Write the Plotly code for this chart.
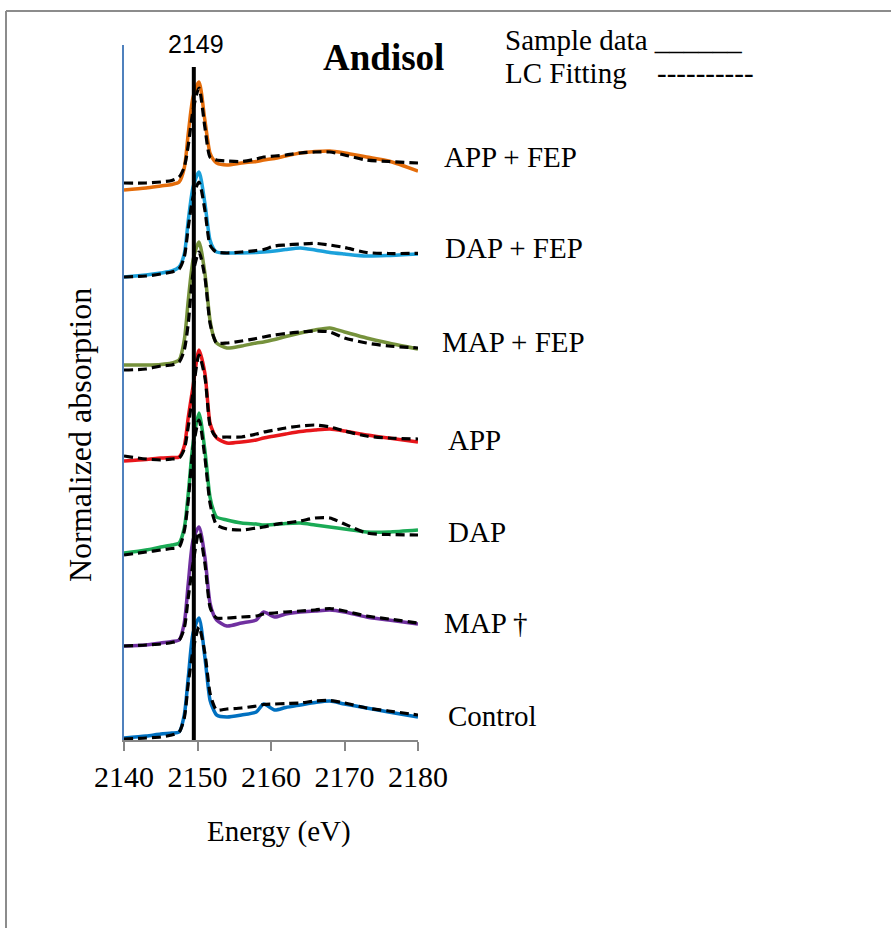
import plotly.graph_objects as go

# ---------------- data ----------------
energy = [2140, 2143, 2145, 2146.5, 2147.5, 2148.2, 2148.75, 2149.4, 2150.2, 2151, 2151.7, 2152.2, 2152.6, 2154,
          2156, 2158, 2159, 2160.5, 2162, 2164, 2166, 2168, 2170, 2173, 2176, 2180]

series_names = ["APP + FEP", "DAP + FEP", "MAP + FEP", "APP", "DAP", "MAP \u2020", "Control"]
series_offsets = [55.0, 46.3, 37.5, 27.9, 18.7, 9.4, 0.2]

sample_app_fep = [0, 0.2, 0.4, 0.55, 0.8, 2.2, 5.7, 9.3, 10.8, 7.0, 3.7, 3.0, 2.7, 2.5, 2.7, 2.85, 3.0, 3.15, 3.4, 3.7, 3.85, 3.9, 3.7, 3.3, 2.9, 1.9]
fit_app_fep = [0.7, 0.7, 0.8, 0.95, 1.3, 2.3, 4.5, 8.0, 10.2, 6.3, 3.3, 3.1, 3.0, 2.9, 2.85, 3.1, 3.3, 3.4, 3.5, 3.7, 3.8, 3.8, 3.5, 3.0, 2.85, 2.7]

sample_dap_fep = [0, 0.2, 0.4, 0.6, 1.0, 2.3, 5.7, 9.0, 10.5, 7.4, 3.7, 2.8, 2.5, 2.4, 2.4, 2.45, 2.5, 2.6, 2.75, 2.9, 2.7, 2.45, 2.3, 2.1, 2.15, 2.3]
fit_dap_fep = [0.0, 0.1, 0.3, 0.5, 0.8, 2.0, 5.0, 8.0, 9.5, 6.7, 3.2, 2.7, 2.5, 2.4, 2.5, 2.65, 2.75, 3.1, 3.2, 3.3, 3.37, 3.2, 2.95, 2.45, 2.35, 2.37]

sample_map_fep = [0, 0, 0.05, 0.2, 0.5, 2.5, 6.5, 10.5, 12.3, 9.2, 4.5, 2.8, 2.2, 1.7, 1.9, 2.2, 2.3, 2.55, 2.85, 3.2, 3.5, 3.7, 3.3, 2.7, 2.2, 1.6]
fit_map_fep = [-0.5, -0.4, -0.1, 0.0, 0.3, 1.5, 4.2, 9.2, 11.3, 8.8, 4.2, 2.8, 2.2, 2.2, 2.4, 2.65, 2.8, 3.0, 3.15, 3.3, 3.4, 3.3, 2.7, 2.2, 1.9, 1.7]

sample_app = [0, 0.15, 0.3, 0.35, 0.4, 1.5, 4.4, 7.5, 11.1, 8.8, 3.8, 2.8, 2.3, 1.8, 1.9, 2.1, 2.3, 2.5, 2.7, 2.95, 3.1, 3.2, 3.0, 2.6, 2.3, 1.9]
fit_app = [0.5, 0.2, 0.1, 0.2, 0.3, 1.2, 3.5, 7.0, 10.6, 8.4, 3.6, 2.7, 2.4, 2.4, 2.4, 2.7, 2.9, 3.1, 3.3, 3.5, 3.6, 3.4, 3.0, 2.5, 2.3, 2.2]

sample_dap = [0, 0.3, 0.6, 0.8, 1.0, 2.5, 6.0, 11.0, 14.0, 10.3, 5.6, 4.2, 3.6, 3.3, 3.0, 2.9, 2.8, 2.85, 2.95, 3.0, 2.8, 2.6, 2.4, 2.1, 2.1, 2.3]
fit_dap = [-0.2, 0.1, 0.3, 0.45, 0.6, 2.2, 5.3, 10.5, 13.3, 9.6, 5.0, 3.5, 2.8, 2.4, 2.3, 2.5, 2.6, 2.85, 3.0, 3.2, 3.5, 3.5, 2.9, 2.0, 1.85, 1.8]

sample_map = [0, 0.1, 0.3, 0.45, 0.6, 2.3, 6.3, 10.6, 11.9, 8.9, 4.3, 3.1, 2.6, 2.0, 2.3, 2.6, 3.4, 2.9, 3.2, 3.4, 3.5, 3.6, 3.4, 2.9, 2.6, 2.2]
fit_map = [0, 0.1, 0.2, 0.35, 0.6, 1.8, 4.9, 8.3, 11.4, 8.3, 3.9, 3.1, 2.8, 2.8, 2.9, 3.0, 3.2, 3.3, 3.4, 3.5, 3.6, 3.75, 3.5, 3.0, 2.7, 2.3]

sample_control = [0, 0.2, 0.4, 0.5, 0.6, 2.3, 6.1, 10.5, 12.0, 8.1, 3.8, 2.8, 2.3, 2.1, 2.3, 2.6, 3.4, 2.8, 3.05, 3.3, 3.55, 3.7, 3.4, 3.0, 2.6, 2.1]
fit_control = [-0.1, 0.0, 0.1, 0.3, 0.6, 2.0, 5.5, 8.8, 11.1, 8.5, 4.5, 3.3, 2.8, 2.9, 3.0, 3.2, 3.35, 3.4, 3.45, 3.5, 3.7, 3.75, 3.5, 3.0, 2.7, 2.3]

samples = [sample_app_fep, sample_dap_fep, sample_map_fep, sample_app, sample_dap, sample_map, sample_control]
fits = [fit_app_fep, fit_dap_fep, fit_map_fep, fit_app, fit_dap, fit_map, fit_control]

x_ticks = [2140, 2150, 2160, 2170, 2180]
marker_energy = 2149.5
marker_label = "2149"
marker_top = 67.3

# ---------------- styles ----------------
colors = ["#E46C0A", "#1BA1DB", "#76923C", "#E8161B", "#1AAA55", "#7030A0", "#0070C0"]
SERIF = "Liberation Serif, Times New Roman, serif"

W, H = 891, 928
L, R, T, B = 124, 418, 45, 740


def px(x):
    return (x - L) / (R - L)


def py(y):
    return (B - y) / (B - T)


fig = go.Figure()
for name, off, s, f, c in zip(series_names, series_offsets, samples, fits, colors):
    fig.add_trace(go.Scatter(x=energy, y=[off + v for v in s], mode="lines",
                             line=dict(color=c, width=3.5, shape="spline", smoothing=0.7),
                             name=name, showlegend=False, hoverinfo="skip"))
    fig.add_trace(go.Scatter(x=energy, y=[off + v for v in f], mode="lines",
                             line=dict(color="black", width=3.2, dash="9px,5px", shape="spline", smoothing=0.7),
                             name=name + " fit", showlegend=False, hoverinfo="skip"))

# marker line at 2149
fig.add_shape(type="line", xref="x", yref="y", x0=marker_energy, x1=marker_energy, y0=0, y1=marker_top,
              line=dict(color="black", width=4))

# outer border
fig.add_shape(type="line", xref="paper", yref="paper", x0=px(6), x1=px(W), y0=py(11), y1=py(11),
              line=dict(color="#8C8C8C", width=2))
fig.add_shape(type="line", xref="paper", yref="paper", x0=px(6), x1=px(6), y0=py(11), y1=py(H),
              line=dict(color="#8C8C8C", width=2))

ann = []
label_pos = [(442, 157), (443, 248), (440, 342), (446, 440), (446, 532), (442, 623), (446, 716)]
for name, (lx, ly) in zip(series_names, label_pos):
    ann.append(dict(x=px(lx), y=py(ly), xref="paper", yref="paper", text=name, showarrow=False,
                    xanchor="left", yanchor="middle", font=dict(family=SERIF, size=29, color="black")))

ann.append(dict(x=px(383), y=py(58), xref="paper", yref="paper", text="<b>Andisol</b>", showarrow=False,
                xanchor="center", yanchor="middle", font=dict(family=SERIF, size=37, color="black")))
ann.append(dict(x=px(503), y=py(40), xref="paper", yref="paper", text="Sample data ______", showarrow=False,
                xanchor="left", yanchor="middle", font=dict(family=SERIF, size=29, color="black")))
ann.append(dict(x=px(503), y=py(73), xref="paper", yref="paper", text="LC Fitting", showarrow=False,
                xanchor="left", yanchor="middle", font=dict(family=SERIF, size=29, color="black")))
ann.append(dict(x=px(655), y=py(73), xref="paper", yref="paper", text="----------", showarrow=False,
                xanchor="left", yanchor="middle", font=dict(family=SERIF, size=29, color="black")))
ann.append(dict(x=px(196), y=py(44), xref="paper", yref="paper", text=marker_label, showarrow=False,
                xanchor="center", yanchor="middle", font=dict(family="Liberation Sans, Arial, sans-serif", size=25, color="black")))
ann.append(dict(x=px(279), y=py(832), xref="paper", yref="paper", text="Energy (eV)", showarrow=False,
                xanchor="center", yanchor="middle", font=dict(family=SERIF, size=29, color="black")))
ann.append(dict(x=px(80), y=py(435), xref="paper", yref="paper", text="Normalized absorption", showarrow=False,
                textangle=-90, xanchor="center", yanchor="middle", font=dict(family=SERIF, size=32, color="black")))

fig.update_layout(
    width=W, height=H,
    margin=dict(l=L, r=W - R, t=T, b=H - B),
    paper_bgcolor="white", plot_bgcolor="white",
    annotations=ann,
    xaxis=dict(range=[2140, 2180], tickvals=x_ticks, ticks="outside", ticklen=9, tickwidth=1.5,
               tickcolor="#868686", showline=True, linecolor="#868686", linewidth=1.5,
               showgrid=False, zeroline=False,
               tickfont=dict(family=SERIF, size=30, color="black")),
    yaxis=dict(range=[0, 69.5], showline=True, linecolor="#4F81BD", linewidth=1.5,
               showticklabels=False, ticks="", showgrid=False, zeroline=False),
)

fig.write_html("out.html")
